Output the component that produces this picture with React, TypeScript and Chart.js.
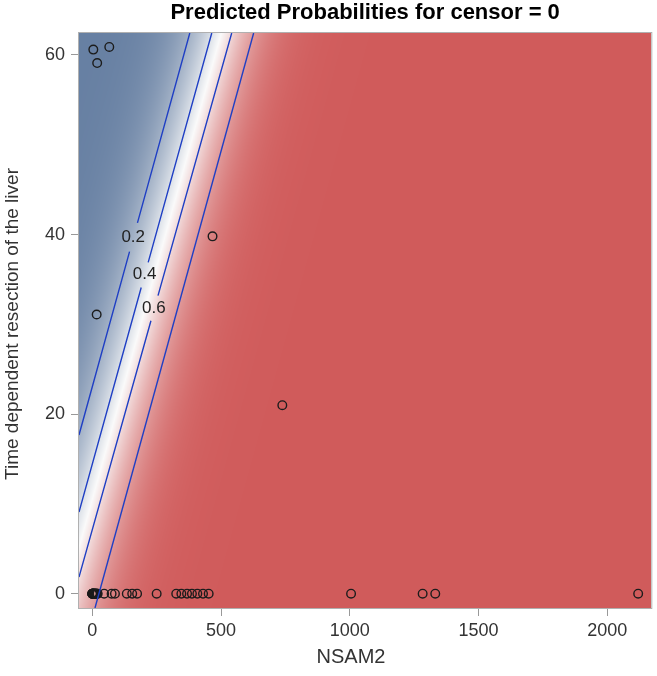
import React, { useEffect, useRef } from 'react';
import { Chart, registerables } from 'chart.js';

Chart.register(...registerables);

const TITLE = 'Predicted Probabilities for censor = 0';
const X_TITLE = 'NSAM2';
const Y_TITLE = 'Time dependent resection of the liver';

const X_TICKS = [0, 500, 1000, 1500, 2000];
const Y_TICKS = [0, 20, 40, 60];
const X_RANGE = [-51.6, 2171];
const Y_RANGE = [-1.59, 62.45];

// observed data (NSAM2, time)
const OBS_X = [4, 66, 19, 17, 467, 738, 0, 0, 0, 1, 1, 2, 2, 3, 4, 5, 6, 7, 8, 9, 10, 11, 12, 14, 15, 17, 19, 21, 46, 75, 88, 134, 155, 174, 250, 326, 346, 368, 387, 408, 430, 452, 1005, 1283, 1332, 2120];
const OBS_Y = [60.6, 60.9, 59.1, 31.1, 39.8, 21.0, 0, 0, 0, 0, 0, 0, 0, 0, 0, 0, 0, 0, 0, 0, 0, 0, 0, 0, 0, 0, 0, 0, 0, 0, 0, 0, 0, 0, 0, 0, 0, 0, 0, 0, 0, 0, 0, 0, 0, 0];

// fitted logistic surface: logit(p) = b0 + b1*NSAM2 + b2*time
const MODEL_INTERCEPT = 1.13;
const MODEL_NSAM2 = 0.01117;
const MODEL_TIME = -0.1077;

// contour lines (null = break for the label)
const CONTOUR_02: (number[] | null)[] = [[378.7, 62.45], [175.4, 41.3], null, [144.7, 38.1], [-51.6, 17.68]];
const CONTOUR_04: (number[] | null)[] = [[464, 62.45], [217.1, 36.9], null, [190, 34.1], [-51.6, 9.1]];
const CONTOUR_06: (number[] | null)[] = [[541.5, 62.45], [255.2, 33.2], null, [227.8, 30.4], [-51.6, 1.86]];
const CONTOUR_08: (number[] | null)[] = [[626.7, 62.45], [10.5, -1.59]];

const CONTOUR_LABEL_TEXT = ['0.2', '0.4', '0.6'];
const CONTOUR_LABEL_X = [159, 203, 239];
const CONTOUR_LABEL_Y = [39.7, 35.6, 31.8];

const FONT = "'Liberation Sans', Arial, Helvetica, sans-serif";
const RAMP_LOW = [102, 127, 162];
const RAMP_MID = [250, 250, 250];
const RAMP_HIGH = [208, 91, 91];

const toPts = (arr: (number[] | null)[]) =>
  arr.map((p, i) => (p ? { x: p[0], y: p[1] } : { x: arr[i - 1]![0], y: null }));

const heatmapPlugin = {
  id: 'heatmap',
  beforeDatasetsDraw(chart: any) {
    const { ctx, chartArea: a, scales } = chart;
    const xs = scales.x, ys = scales.y;
    const w = Math.round(a.right - a.left);
    const h = Math.round(a.bottom - a.top);
    const off = document.createElement('canvas');
    off.width = w;
    off.height = h;
    const octx = off.getContext('2d')!;
    const img = octx.createImageData(w, h);
    const xv = new Float64Array(w);
    for (let i = 0; i < w; i++) xv[i] = xs.getValueForPixel(a.left + i + 0.5);
    for (let j = 0; j < h; j++) {
      const yv = ys.getValueForPixel(a.top + j + 0.5);
      for (let i = 0; i < w; i++) {
        const p = 1 / (1 + Math.exp(-(MODEL_INTERCEPT + MODEL_NSAM2 * xv[i] + MODEL_TIME * yv)));
        let c0, c1, t;
        if (p < 0.5) { c0 = RAMP_LOW; c1 = RAMP_MID; t = p / 0.5; }
        else { c0 = RAMP_MID; c1 = RAMP_HIGH; t = (p - 0.5) / 0.5; }
        const k = (j * w + i) * 4;
        img.data[k] = c0[0] + (c1[0] - c0[0]) * t;
        img.data[k + 1] = c0[1] + (c1[1] - c0[1]) * t;
        img.data[k + 2] = c0[2] + (c1[2] - c0[2]) * t;
        img.data[k + 3] = 255;
      }
    }
    octx.putImageData(img, 0, 0);
    ctx.save();
    ctx.drawImage(off, a.left, a.top, w, h);
    ctx.restore();
  },
};

const decorPlugin = {
  id: 'decor',
  afterDatasetsDraw(chart: any) {
    const { ctx, chartArea: a, scales } = chart;
    ctx.save();
    ctx.fillStyle = '#222';
    ctx.font = `17px ${FONT}`;
    ctx.textAlign = 'center';
    ctx.textBaseline = 'middle';
    CONTOUR_LABEL_TEXT.forEach((t, i) => {
      ctx.fillText(t, scales.x.getPixelForValue(CONTOUR_LABEL_X[i]), scales.y.getPixelForValue(CONTOUR_LABEL_Y[i]));
    });
    ctx.strokeStyle = '#b0b0b0';
    ctx.lineWidth = 1;
    ctx.strokeRect(a.left - 0.5, a.top - 0.5, a.right - a.left + 1, a.bottom - a.top + 1);
    ctx.restore();
  },
  afterDraw(chart: any) {
    const { ctx, chartArea: a } = chart;
    ctx.save();
    ctx.fillStyle = '#000';
    ctx.font = `bold 22px ${FONT}`;
    ctx.textAlign = 'center';
    ctx.textBaseline = 'middle';
    ctx.fillText(TITLE, (a.left + a.right) / 2, 13);
    ctx.fillStyle = '#333';
    ctx.font = `20px ${FONT}`;
    ctx.fillText(X_TITLE, 351, 657);
    ctx.translate(13, 324);
    ctx.rotate(-Math.PI / 2);
    ctx.font = `19px ${FONT}`;
    ctx.fillText(Y_TITLE, 0, 0);
    ctx.restore();
  },
};

export default function App() {
  const ref = useRef<HTMLCanvasElement | null>(null);
  useEffect(() => {
    document.body.style.margin = '0';
    const canvas = ref.current!;
    const lineDs = (arr: (number[] | null)[]) => ({
      type: 'line' as const,
      data: toPts(arr),
      borderColor: '#1f3fc4',
      borderWidth: 1.4,
      pointRadius: 0,
      fill: false,
      tension: 0,
      spanGaps: false,
    });
    const chart = new Chart(canvas, {
      type: 'scatter',
      data: {
        datasets: [
          lineDs(CONTOUR_02),
          lineDs(CONTOUR_04),
          lineDs(CONTOUR_06),
          lineDs(CONTOUR_08),
          {
            type: 'scatter',
            data: OBS_X.map((x, i) => ({ x, y: OBS_Y[i] })),
            pointRadius: 4.3,
            pointBorderWidth: 1.4,
            borderColor: '#1c1c1c',
            backgroundColor: 'rgba(0,0,0,0)',
          } as any,
        ],
      },
      options: {
        animation: false,
        responsive: false,
        maintainAspectRatio: false,
        layout: { padding: { top: 33, right: 4.5, left: 0, bottom: 0 } },
        plugins: { legend: { display: false }, tooltip: { enabled: false }, title: { display: false } },
        scales: {
          x: {
            type: 'linear',
            min: X_RANGE[0],
            max: X_RANGE[1],
            afterBuildTicks: (s: any) => { s.ticks = X_TICKS.map((v) => ({ value: v })); },
            afterFit: (s: any) => { s.height = 68; },
            grid: { drawOnChartArea: false, drawTicks: true, tickLength: 8, color: '#999' },
            border: { display: false },
            ticks: { color: '#333', font: { size: 18, family: FONT }, padding: 4, maxRotation: 0, autoSkip: false, callback: (v: any) => String(v) },
          },
          y: {
            type: 'linear',
            min: Y_RANGE[0],
            max: Y_RANGE[1],
            afterBuildTicks: (s: any) => { s.ticks = Y_TICKS.map((v) => ({ value: v })); },
            afterFit: (s: any) => { s.width = 79; },
            grid: { drawOnChartArea: false, drawTicks: true, tickLength: 8, color: '#999' },
            border: { display: false },
            ticks: { color: '#333', font: { size: 18, family: FONT }, padding: 6, autoSkip: false, callback: (v: any) => String(v) },
          },
        },
      },
      plugins: [heatmapPlugin, decorPlugin],
    });
    return () => chart.destroy();
  }, []);
  return <canvas ref={ref} width={657} height={676} style={{ display: 'block' }} />;
}
